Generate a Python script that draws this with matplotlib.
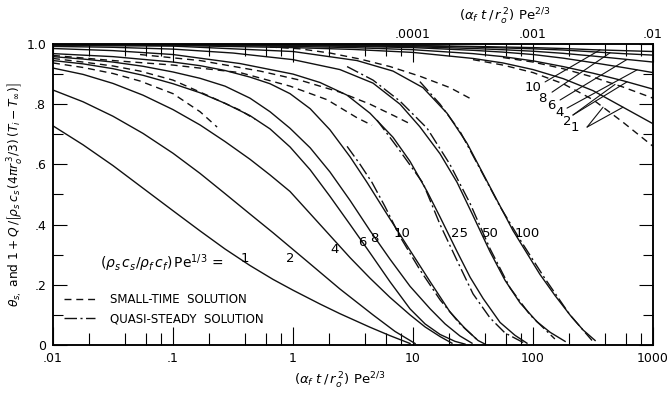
import numpy as np
import matplotlib
matplotlib.use("Agg")
import matplotlib.pyplot as plt
from matplotlib.ticker import FixedLocator, LogLocator, NullFormatter, FuncFormatter
from matplotlib.lines import Line2D

# exact solutions, one curve per (rho_s c_s / rho_f c_f) Pe^1/3
x1 = [0.01, 0.0178, 0.0316, 0.0562, 0.1, 0.168, 0.271, 0.438, 0.681, 1.0, 1.68, 2.46, 4.38, 6.43, 9.44]
y1 = [0.728, 0.665, 0.596, 0.521, 0.446, 0.379, 0.319, 0.264, 0.218, 0.182, 0.136, 0.104, 0.059, 0.031, 0.005]
x2 = [0.01, 0.0178, 0.0316, 0.0562, 0.1, 0.168, 0.271, 0.438, 0.681, 1.31, 2.46, 4.64, 7.08, 10.4]
y2 = [0.847, 0.808, 0.76, 0.703, 0.637, 0.57, 0.503, 0.435, 0.373, 0.278, 0.186, 0.10, 0.045, 0.005]
x4 = [0.01, 0.0178, 0.0316, 0.0562, 0.1, 0.168, 0.271, 0.438, 0.643, 0.944, 1.68, 2.99, 4.38,
      6.43, 9.44, 12.6, 16.8, 21.1]
y4 = [0.92, 0.899, 0.869, 0.83, 0.782, 0.731, 0.676, 0.617, 0.565, 0.51, 0.40, 0.29, 0.222,
      0.158, 0.10, 0.06, 0.028, 0.006]
x6 = [0.01, 0.0178, 0.0316, 0.0562, 0.1, 0.168, 0.271, 0.438, 0.643, 0.944, 1.39, 2.03, 2.99,
      4.38, 6.43, 9.44, 12.6, 16.8, 22.4, 27.1]
y6 = [0.945, 0.934, 0.918, 0.896, 0.868, 0.838, 0.803, 0.762, 0.718, 0.658, 0.582, 0.494, 0.40,
      0.306, 0.21, 0.12, 0.07, 0.035, 0.012, 0.003]
x8 = [0.01, 0.0178, 0.0316, 0.0562, 0.1, 0.168, 0.271, 0.438, 0.643, 0.944, 1.39, 2.03, 2.99,
      4.38, 6.43, 9.44, 13.9, 18.5, 24.6, 31.0]
y8 = [0.958, 0.95, 0.94, 0.926, 0.907, 0.886, 0.86, 0.82, 0.775, 0.72, 0.655, 0.575, 0.48,
      0.38, 0.285, 0.195, 0.12, 0.07, 0.03, 0.006]
x10 = [0.01, 0.0316, 0.1, 0.168, 0.271, 0.438, 0.643, 0.944, 1.39, 2.03, 2.99, 4.14, 5.84,
       8.91, 13.9, 20.3, 27.1, 34.8, 39.8]
y10 = [0.968, 0.958, 0.94, 0.928, 0.912, 0.89, 0.868, 0.835, 0.785, 0.715, 0.625, 0.54, 0.445,
       0.33, 0.21, 0.11, 0.055, 0.015, 0.003]
x25 = [0.01, 0.0316, 0.1, 0.362, 1.0, 1.68, 2.82, 4.38, 6.81, 9.44, 13.1, 16.8, 23.3, 29.9,
       38.3, 53.1, 70.8, 89.0]
y25 = [0.985, 0.978, 0.965, 0.935, 0.90, 0.872, 0.83, 0.77, 0.69, 0.61, 0.51, 0.425, 0.31, 0.225,
       0.155, 0.075, 0.032, 0.006]
x50 = [0.01, 0.0316, 0.1, 0.316, 1.0, 2.46, 4.64, 7.79, 11.4, 16.8, 23.3, 31.6, 43.8, 58.4,
       77.9, 108, 139, 185]
y50 = [0.992, 0.989, 0.983, 0.97, 0.948, 0.915, 0.87, 0.80, 0.725, 0.635, 0.54, 0.43, 0.31, 0.215,
       0.14, 0.077, 0.042, 0.012]
x100 = [0.01, 0.1, 1.0, 3.41, 6.81, 12.1, 19.2, 28.2, 43.8, 68.1, 114, 152, 203, 261, 329]
y100 = [0.995, 0.993, 0.975, 0.945, 0.91, 0.855, 0.77, 0.67, 0.525, 0.38, 0.235, 0.165, 0.10,
        0.05, 0.015]

# small-time solution
xs_a = [0.01, 0.0178, 0.0316, 0.0531, 0.1, 0.168, 0.233]
ys_a = [0.937, 0.922, 0.902, 0.877, 0.835, 0.775, 0.724]
xs_b = [0.01, 0.0178, 0.0316, 0.0531, 0.1, 0.192, 0.362, 0.482]
ys_b = [0.952, 0.94, 0.927, 0.91, 0.88, 0.83, 0.78, 0.75]
xs_c = [0.01, 0.0316, 0.1, 0.362, 0.944, 1.92, 3.41, 4.55]
ys_c = [0.962, 0.945, 0.93, 0.905, 0.86, 0.815, 0.755, 0.73]
xs_d = [0.0531, 0.168, 0.531, 1.14, 2.46, 4.38, 7.08, 9.44]
ys_d = [0.965, 0.945, 0.91, 0.88, 0.84, 0.80, 0.76, 0.735]
xs_e = [0.643, 1.14, 2.03, 3.62, 6.43, 11.4, 20.3, 31.6]
ys_e = [0.99, 0.984, 0.97, 0.95, 0.925, 0.893, 0.855, 0.814]

# quasi-steady solution
xq10 = [2.82, 3.62, 4.55, 5.84, 7.79, 11.4, 16.8, 24.6, 34.8]
yq10 = [0.66, 0.60, 0.54, 0.46, 0.36, 0.25, 0.15, 0.07, 0.015]
xq25 = [5.01, 7.36, 12.1, 16.8, 23.3, 31.6, 43.8, 58.4, 85.8]
yq25 = [0.747, 0.658, 0.538, 0.40, 0.28, 0.17, 0.09, 0.04, 0.005]
xq50 = [2.82, 4.64, 7.79, 13.1, 20.3, 29.9, 43.8, 64.3, 94.4, 152]
yq50 = [0.925, 0.88, 0.81, 0.72, 0.60, 0.47, 0.32, 0.19, 0.10, 0.02]
xq100 = [11.4, 16.8, 24.6, 36.2, 53.1, 77.9, 126, 203, 310]
yq100 = [0.875, 0.80, 0.71, 0.585, 0.46, 0.35, 0.22, 0.10, 0.015]

# early times, read on the top scale
tt = [1e-7, 1e-6, 1e-5, 3.16e-5, 1e-4, 3.16e-4, 5.62e-4, 1e-3, 1.78e-3, 3.16e-3, 5.62e-3, 1e-2]
t10 = [1.0, 0.999, 0.998, 0.997, 0.995, 0.992, 0.99, 0.988, 0.985, 0.981, 0.978, 0.975]
t8 = [1.0, 0.999, 0.997, 0.996, 0.994, 0.99, 0.987, 0.984, 0.98, 0.974, 0.968, 0.963]
t6 = [0.999, 0.998, 0.996, 0.994, 0.991, 0.985, 0.981, 0.976, 0.969, 0.96, 0.95, 0.94]
t4 = [0.999, 0.998, 0.995, 0.992, 0.988, 0.979, 0.973, 0.965, 0.953, 0.938, 0.922, 0.905]
t2 = [0.999, 0.997, 0.992, 0.988, 0.981, 0.968, 0.958, 0.944, 0.925, 0.903, 0.878, 0.85]
t1 = [0.998, 0.995, 0.988, 0.982, 0.972, 0.952, 0.937, 0.915, 0.885, 0.845, 0.79, 0.735]
ttd1 = [3.16e-4, 5.62e-4, 1e-3, 1.78e-3, 3.16e-3, 5.62e-3, 1e-2]
td1 = [0.948, 0.93, 0.905, 0.868, 0.815, 0.74, 0.66]
ttd2 = [5.62e-4, 1e-3, 1.78e-3, 3.16e-3, 5.62e-3, 1e-2]
td2 = [0.955, 0.94, 0.918, 0.89, 0.857, 0.82]

curve_labels = ["1", "2", "4", "6", "8", "10", "25", "50", "100"]
label_x = [0.398, 0.944, 2.2, 3.76, 4.73, 8.1, 24.6, 43.8, 89]
label_y = [0.289, 0.289, 0.316, 0.339, 0.355, 0.372, 0.372, 0.372, 0.372]

INK = "#111111"
DASH = (0, (5, 3.5))
DASHDOT = (0, (9, 2.5, 1.5, 2.5))

fig = plt.figure(figsize=(6.72, 3.96), dpi=100)
ax = fig.add_axes([0.0789, 0.1288, 0.8929, 0.7601])
ax.set_xscale("log")
ax.set_xlim(0.01, 1000)
ax.set_ylim(0, 1.0)

for xs, ys in [(x1, y1), (x2, y2), (x4, y4), (x6, y6), (x8, y8), (x10, y10),
               (x25, y25), (x50, y50), (x100, y100)]:
    ax.plot(xs, ys, color=INK, lw=1.0)
for xs, ys in [(xs_a, ys_a), (xs_b, ys_b), (xs_c, ys_c), (xs_d, ys_d), (xs_e, ys_e)]:
    ax.plot(xs, ys, color=INK, lw=1.0, ls=DASH)
for xs, ys in [(xq10, yq10), (xq25, yq25), (xq50, yq50), (xq100, yq100)]:
    ax.plot(xs, ys, color=INK, lw=1.0, ls=DASHDOT)

for s, lx, ly in zip(curve_labels, label_x, label_y):
    ax.text(lx, ly, s, ha="center", va="center", fontsize=9.5)
ax.text(0.0247, 0.272, r"$(\rho_s\,c_s/\rho_f\,c_f)\,\mathrm{Pe}^{1/3}$ =",
        ha="left", va="center", fontsize=10)


def dec_label(v, pos):
    s = "%g" % v
    return s[1:] if s.startswith("0.") else s


ax.xaxis.set_major_locator(LogLocator(base=10, numticks=12))
ax.xaxis.set_minor_locator(LogLocator(base=10, subs=(2, 4, 6, 8), numticks=12))
ax.xaxis.set_major_formatter(FuncFormatter(dec_label))
ax.xaxis.set_minor_formatter(NullFormatter())
ax.yaxis.set_major_locator(FixedLocator([0, 0.2, 0.4, 0.6, 0.8, 1.0]))
ax.yaxis.set_minor_locator(FixedLocator([0.1, 0.3, 0.5, 0.7, 0.9]))
ax.yaxis.set_major_formatter(FuncFormatter(
    lambda v, p: "0" if v == 0 else ("1.0" if v > 0.99 else ("%.1f" % v)[1:])))
ax.tick_params(axis="x", which="major", direction="in", length=13, width=0.8,
               labelsize=9, pad=5, top=False)
ax.tick_params(axis="x", which="minor", direction="in", length=8.5, width=0.8, top=False)
ax.tick_params(axis="y", which="major", direction="in", length=10, width=0.8,
               labelsize=9, right=True, pad=5)
ax.tick_params(axis="y", which="minor", direction="in", length=7, width=0.8, right=True)
for sp in ax.spines.values():
    sp.set_linewidth(1.1)

# top scale for the early-time family
ax_top = ax.twiny()
ax_top.set_xscale("log")
ax_top.set_xlim(1e-7, 1e-2)
ax_top.xaxis.set_major_locator(LogLocator(base=10, numticks=12))
ax_top.xaxis.set_minor_locator(LogLocator(base=10, subs=(2, 4, 6, 8), numticks=12))
ax_top.xaxis.set_major_formatter(FuncFormatter(
    lambda v, p: dec_label(v, p) if v > 5e-5 else ""))
ax_top.xaxis.set_minor_formatter(NullFormatter())
ax_top.tick_params(axis="x", which="major", direction="in", length=13, width=0.8,
                   labelsize=9, pad=2)
ax_top.tick_params(axis="x", which="minor", direction="in", length=8.5, width=0.8)
for sp in ax_top.spines.values():
    sp.set_linewidth(1.1)

for ys in [t10, t8, t6, t4, t2, t1]:
    ax_top.plot(tt, ys, color=INK, lw=1.0)
ax_top.plot(ttd1, td1, color=INK, lw=1.0, ls=DASH)
ax_top.plot(ttd2, td2, color=INK, lw=1.0, ls=DASH)


def on_curve(tx, ty, t):
    return np.interp(np.log10(t), np.log10(tx), ty)


# labels with leader lines for the top family
top_labels = ["10", "8", "6", "4", "2", "1"]
top_lx = [100, 119, 141, 165, 192, 224]
top_ly = [0.857, 0.82, 0.797, 0.771, 0.744, 0.721]
lead_from = [(126, 0.874), (144, 0.84), (168, 0.814), (192, 0.787), (215, 0.764), (282, 0.724)]
lead_to = [[(tt, t10, 3.61e-3)], [(tt, t8, 4.38e-3)], [(tt, t6, 6.07e-3)], [(tt, t4, 7.36e-3)],
           [(ttd2, td2, 4.82e-3), (tt, t2, 6.07e-3)], [(ttd1, td1, 3.83e-3), (tt, t1, 5.62e-3)]]
for s, lx, ly, start, tips in zip(top_labels, top_lx, top_ly, lead_from, lead_to):
    ax.text(lx, ly, s, ha="center", va="center", fontsize=9.5)
    for tx, ty, t in tips:
        ax_top.annotate("", xy=(t, on_curve(tx, ty, t)), xytext=start,
                        textcoords=ax.transData, annotation_clip=False,
                        arrowprops=dict(arrowstyle="-", lw=0.8, color=INK,
                                        shrinkA=0, shrinkB=0))

handles = [Line2D([], [], color=INK, lw=1.0, ls=DASH),
           Line2D([], [], color=INK, lw=1.0, ls=DASHDOT)]
ax.legend(handles, ["SMALL-TIME  SOLUTION", "QUASI-STEADY  SOLUTION"],
          loc="lower left", bbox_to_anchor=(0.018, 0.065), frameon=False,
          fontsize=8.5, handlelength=2.6, handletextpad=1.3, labelspacing=0.55,
          borderpad=0, borderaxespad=0)

tau_label = r"$(\alpha_f\ t\,/\,r_o^{\,2})\ \mathrm{Pe}^{2/3}$"
ax.set_xlabel(tau_label, fontsize=9.5)
ax.xaxis.set_label_coords(0.478, -0.085)
ax.text(0.753, 1.09, tau_label, transform=ax.transAxes, ha="center", va="center",
        fontsize=9.5)
ax.set_ylabel(r"$\theta_{s,}$ and $1+Q\,/\left[\rho_s\,c_s\,(4\pi r_o^{\,3}/3)\,(T_i-T_\infty)\right]$",
              fontsize=8.8)
ax.yaxis.set_label_coords(-0.047, 0.5)

fig.savefig("out.png", dpi=100)
